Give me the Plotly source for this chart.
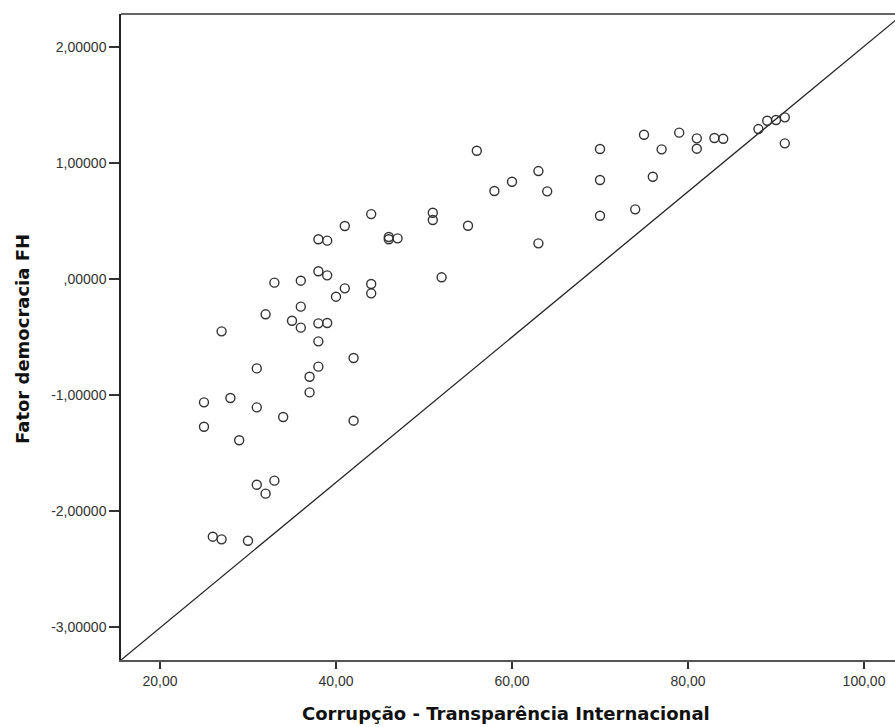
import plotly.graph_objects as go

# Data
corrupcao = [44, 41, 38, 39, 38, 39, 33, 36, 41, 40, 44, 44, 36, 32, 35, 36, 38, 39, 27, 38,
             42, 31, 38, 37, 37, 25, 28, 31, 34, 42, 25, 29, 31, 33, 32, 26, 27, 30,
             56, 70, 63, 60, 58, 64, 70, 51, 51, 55, 46, 46, 47, 63, 70, 52,
             75, 77, 76, 74, 79, 81, 81, 83, 84, 88, 89, 90, 91, 91]
democracia = [0.557, 0.454, 0.340, 0.328, 0.064, 0.029, -0.034, -0.017, -0.083, -0.155,
              -0.046, -0.126, -0.241, -0.307, -0.362, -0.422, -0.385, -0.382, -0.454, -0.540,
              -0.684, -0.773, -0.758, -0.845, -0.980, -1.066, -1.028, -1.109, -1.192, -1.224,
              -1.276, -1.393, -1.776, -1.741, -1.853, -2.224, -2.247, -2.259,
              1.103, 1.118, 0.928, 0.836, 0.756, 0.753, 0.851, 0.569, 0.506, 0.457,
              0.360, 0.340, 0.348, 0.305, 0.543, 0.012,
              1.241, 1.115, 0.879, 0.598, 1.259, 1.210, 1.121, 1.213, 1.207, 1.290,
              1.362, 1.368, 1.391, 1.167]

x_tickvals = [20, 40, 60, 80, 100]
x_ticktext = ["20,00", "40,00", "60,00", "80,00", "100,00"]
y_tickvals = [2, 1, 0, -1, -2, -3]
y_ticktext = ["2,00000", "1,00000", ",00000", "-1,00000", "-2,00000", "-3,00000"]

x_range = [15.57, 103.52]
y_range = [-3.287, 2.282]
# diagonal reference line (corner to corner of the full frame)
ref_x = [15.57, 104.45]
ref_y = [-3.287, 2.282]

x_title = "Corrupção - Transparência Internacional"
y_title = "Fator democracia FH"

fig = go.Figure()
fig.add_trace(go.Scatter(x=ref_x, y=ref_y, mode="lines",
                         line=dict(color="#222222", width=1.3),
                         hoverinfo="skip", showlegend=False, cliponaxis=True))
fig.add_trace(go.Scatter(x=corrupcao, y=democracia, mode="markers",
                         marker=dict(symbol="circle-open", size=9,
                                     color="#333333", line=dict(width=1.4, color="#333333")),
                         showlegend=False))

font = "Liberation Sans, Arial, sans-serif"
title_font = "DejaVu Sans, Verdana, sans-serif"
fig.update_layout(
    width=895, height=727,
    margin=dict(l=121, r=0, t=14, b=67),
    paper_bgcolor="white", plot_bgcolor="white",
    font=dict(family=font, size=14, color="#333333"),
    xaxis=dict(range=x_range, tickvals=x_tickvals, ticktext=x_ticktext,
               showgrid=False, zeroline=False, showline=True, linecolor="#555555",
               linewidth=2, ticks="outside", ticklen=7, tickcolor="#333333",
               tickwidth=1.5, tickfont=dict(size=14, color="#333333")),
    yaxis=dict(range=y_range, tickvals=y_tickvals, ticktext=y_ticktext,
               showgrid=False, zeroline=False, showline=True, linecolor="#222222",
               linewidth=1.5, ticks="outside", ticklen=10, tickcolor="#333333",
               tickwidth=1.5, tickfont=dict(size=14, color="#333333")),
    shapes=[dict(type="line", xref="paper", yref="paper", x0=0, x1=1, y0=1, y1=1,
                 line=dict(color="#666666", width=2))],
    annotations=[
        dict(text="<b>" + x_title + "</b>", xref="paper", yref="paper",
             x=(506 - 121) / 774, y=-(713 - 660) / 646, xanchor="center", yanchor="middle",
             showarrow=False,
             font=dict(family=title_font, size=18, color="#111111")),
        dict(text="<b>" + y_title + "</b>", xref="paper", yref="paper",
             x=(22 - 121) / 774, y=(660 - 339) / 646, xanchor="center", yanchor="middle",
             textangle=-90, showarrow=False,
             font=dict(family=title_font, size=18, color="#111111")),
    ],
)

fig.write_html("out.html")
